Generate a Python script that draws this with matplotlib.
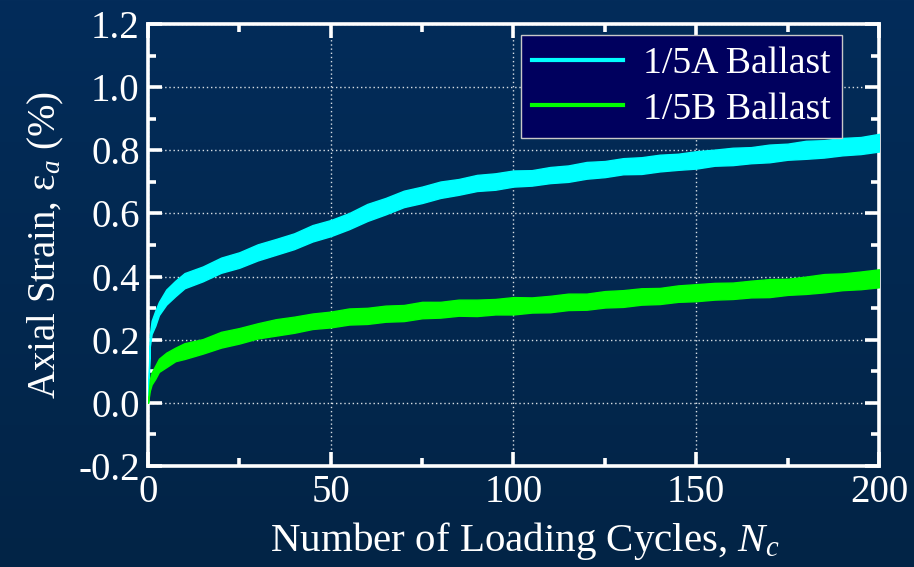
import numpy as np
import matplotlib
matplotlib.use("Agg")
import matplotlib.pyplot as plt
from matplotlib.ticker import MultipleLocator

plt.rcParams['font.family'] = ['Liberation Serif', 'DejaVu Serif']
plt.rcParams['mathtext.fontset'] = 'custom'
plt.rcParams['mathtext.rm'] = 'Liberation Serif'
plt.rcParams['mathtext.it'] = 'Liberation Serif:italic'

# loading cycles at which the traces were sampled
cycles = [0, 0.5, 1, 2, 3, 5, 7.5, 10, 15, 20, 25, 30, 35, 40, 45, 50, 55, 60,
          65, 70, 75, 80, 85, 90, 95, 100, 105, 110, 115, 120, 125, 130, 135,
          140, 145, 150, 155, 160, 165, 170, 175, 180, 185, 190, 195, 200]

# 1/5A ballast: mid-line of the strain band (%)
strain_a = [0.0, 0.20, 0.24, 0.27, 0.30, 0.335, 0.365, 0.385, 0.41, 0.435,
            0.455, 0.475, 0.495, 0.515, 0.535, 0.555, 0.575, 0.60, 0.625, 0.645,
            0.66, 0.673, 0.685, 0.695, 0.703, 0.71, 0.715, 0.72, 0.728, 0.735,
            0.742, 0.748, 0.753, 0.758, 0.765, 0.77, 0.776, 0.78, 0.785, 0.79,
            0.795, 0.80, 0.805, 0.81, 0.815, 0.822]
# 1/5B ballast
strain_b = [0.0, 0.06, 0.08, 0.10, 0.12, 0.137, 0.155, 0.165, 0.18, 0.20,
            0.215, 0.228, 0.238, 0.25, 0.258, 0.265, 0.272, 0.277, 0.282,
            0.287, 0.292, 0.296, 0.30, 0.302, 0.305, 0.308, 0.31, 0.313,
            0.318, 0.322, 0.327, 0.332, 0.335, 0.34, 0.345, 0.35, 0.352,
            0.356, 0.36, 0.363, 0.367, 0.372, 0.378, 0.383, 0.388, 0.393]

# half-width of the cyclic scatter above / below the mid-line
spread_a_up = [0.0, 0.015, 0.02, 0.022, 0.02, 0.024, 0.022, 0.026, 0.022, 0.025,
               0.022, 0.027, 0.024, 0.022, 0.028, 0.024, 0.026, 0.03, 0.024,
               0.027, 0.025, 0.028, 0.024, 0.027, 0.024, 0.026, 0.022, 0.027,
               0.024, 0.028, 0.024, 0.027, 0.025, 0.028, 0.024, 0.027, 0.026,
               0.028, 0.025, 0.028, 0.026, 0.03, 0.027, 0.029, 0.027, 0.03]
spread_a_dn = [0.0, 0.022, 0.022, 0.026, 0.022, 0.024, 0.027, 0.022, 0.025, 0.023,
               0.027, 0.024, 0.026, 0.028, 0.024, 0.027, 0.025, 0.024, 0.028,
               0.025, 0.027, 0.024, 0.026, 0.024, 0.028, 0.025, 0.027, 0.024,
               0.028, 0.025, 0.027, 0.024, 0.028, 0.025, 0.027, 0.028, 0.025,
               0.027, 0.026, 0.028, 0.025, 0.027, 0.028, 0.026, 0.027, 0.026]
spread_b_up = [0.0, 0.015, 0.016, 0.018, 0.02, 0.022, 0.02, 0.024, 0.022, 0.025,
               0.022, 0.024, 0.027, 0.023, 0.025, 0.024, 0.027, 0.024, 0.026,
               0.023, 0.028, 0.024, 0.027, 0.025, 0.024, 0.027, 0.024, 0.026,
               0.028, 0.024, 0.027, 0.025, 0.028, 0.024, 0.027, 0.026, 0.028,
               0.025, 0.027, 0.029, 0.026, 0.028, 0.03, 0.027, 0.028, 0.03]
spread_b_dn = [0.0, 0.022, 0.022, 0.024, 0.022, 0.024, 0.023, 0.026, 0.024, 0.025,
               0.027, 0.024, 0.025, 0.028, 0.024, 0.026, 0.024, 0.027, 0.025,
               0.028, 0.024, 0.026, 0.024, 0.027, 0.025, 0.028, 0.024, 0.026,
               0.024, 0.027, 0.025, 0.028, 0.024, 0.027, 0.025, 0.028, 0.025,
               0.027, 0.026, 0.028, 0.025, 0.027, 0.028, 0.026, 0.028, 0.027]

labels = ['1/5A Ballast', '1/5B Ballast']
colors = ['#00ffff', '#00ff00']

fig = plt.figure(figsize=(9.14, 5.67), dpi=100)

# dark blue backdrop with a slight vertical shade
bg = fig.add_axes([0, 0, 1, 1], zorder=-10)
shade = np.linspace(0, 1, 256).reshape(-1, 1)
bg.imshow(shade, aspect='auto', extent=[0, 1, 0, 1], origin='lower',
          cmap=matplotlib.colors.LinearSegmentedColormap.from_list(
              'bgshade', ['#022446', '#032c5a']))
bg.axis('off')

ax = fig.add_axes([0.1619, 0.1781, 0.7998, 0.7796])
ax.set_facecolor('none')

series = [(strain_a, spread_a_up, spread_a_dn), (strain_b, spread_b_up, spread_b_dn)]
for (mid, up, dn), lab, col in zip(series, labels, colors):
    mid = np.array(mid)
    ax.fill_between(cycles, mid - np.array(dn), mid + np.array(up),
                    color=col, linewidth=1.0, edgecolor=col, zorder=3)
    ax.plot([], [], color=col, lw=3, label=lab)

ax.set_xlim(0, 200)
ax.set_ylim(-0.2, 1.2)
ax.xaxis.set_major_locator(MultipleLocator(50))
ax.xaxis.set_minor_locator(MultipleLocator(25))
ax.yaxis.set_major_locator(MultipleLocator(0.2))
ax.yaxis.set_minor_locator(MultipleLocator(0.1))
ax.yaxis.set_major_formatter(matplotlib.ticker.FormatStrFormatter('%.1f'))

ax.grid(True, which='major', color='white', linestyle=(0, (1, 2)), linewidth=1.0, alpha=0.85)
for side in ['left', 'bottom', 'top', 'right']:
    ax.spines[side].set_color('white')
    ax.spines[side].set_linewidth(2.6)

ax.tick_params(which='major', direction='in', length=10, width=2.6, color='white',
               labelcolor='white', labelsize=28, pad=6)
ax.tick_params(which='minor', direction='in', length=6, width=2.6, color='white')
ax.tick_params(axis='y', which='both', right=True)
ax.tick_params(axis='x', which='both', top=True)

ax.set_xlabel('Number of Loading Cycles, $N_c$', color='white', fontsize=29.5)
ax.xaxis.set_label_coords(0.516, -0.122)
ax.set_ylabel('Axial Strain, ε$_{a}$ (%)', color='white', fontsize=28, labelpad=9)

leg = ax.legend(loc='upper right', bbox_to_anchor=(0.95, 0.975), fontsize=27.2,
                frameon=True, fancybox=False, handlelength=2.4, borderpad=0.3,
                labelspacing=0.3, handletextpad=0.55, borderaxespad=0.0)
leg.get_frame().set_facecolor('#00005e')
leg.get_frame().set_edgecolor('#c8c8c8')
leg.get_frame().set_linewidth(1.0)
leg.get_frame().set_alpha(1)
for t in leg.get_texts():
    t.set_color('white')

fig.savefig('out.png', dpi=100)
